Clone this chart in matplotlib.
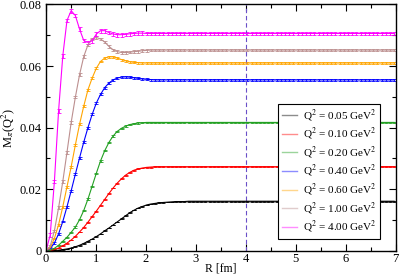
import numpy as np
import matplotlib
matplotlib.use('Agg')
import matplotlib.pyplot as plt

plt.rcParams['font.family'] = ['Liberation Serif', 'DejaVu Serif']
plt.rcParams['mathtext.fontset'] = 'stix'

# lattice spacing of the R grid [fm]
lattice_a = 0.084

q2_labels = ['0.05', '0.10', '0.20', '0.40', '0.60', '1.00', '4.00']
colors = ['#000000', '#ff0000', '#22a022', '#0000ff', '#ffa500', '#bc8f8f', '#ff00ff']

m_005 = [0, 0.00002, 0.0001, 0.0002, 0.0004, 0.0006, 0.0009, 0.0013, 0.0018, 0.0024,
         0.0031, 0.0038, 0.0046, 0.0055, 0.0065, 0.0074, 0.0084, 0.0094, 0.0104, 0.0114,
         0.0124, 0.0132, 0.0139, 0.0144, 0.0149, 0.0152, 0.0154, 0.0156, 0.0157, 0.0158,
         0.0159, 0.0160, 0.0160, 0.0160, 0.0161, 0.0161, 0.0161, 0.0161, 0.0161, 0.0161,
         0.0161, 0.0161, 0.0161, 0.0161, 0.0161, 0.0161, 0.0161, 0.0161, 0.0161, 0.0161,
         0.0161, 0.0161, 0.0161, 0.0161, 0.0161, 0.0161, 0.0161, 0.0161, 0.0161, 0.0161,
         0.0161, 0.0161, 0.0161, 0.0161, 0.0161, 0.0161, 0.0161, 0.0161, 0.0161, 0.0161,
         0.0161, 0.0161, 0.0161, 0.0161, 0.0161, 0.0161, 0.0161, 0.0161, 0.0161, 0.0161,
         0.0161, 0.0161, 0.0161, 0.0161]
m_010 = [0, 0.0001, 0.0004, 0.0009, 0.0016, 0.0025, 0.0035, 0.0047, 0.0061, 0.0076,
         0.0093, 0.0111, 0.0129, 0.0148, 0.0167, 0.0186, 0.0204, 0.0220, 0.0234, 0.0246,
         0.0255, 0.0262, 0.0266, 0.0269, 0.0271, 0.0272, 0.0273, 0.0273, 0.0273, 0.0273,
         0.0273, 0.0273, 0.0273, 0.0273, 0.0273, 0.0273, 0.0273, 0.0273, 0.0273, 0.0273,
         0.0273, 0.0273, 0.0273, 0.0273, 0.0273, 0.0273, 0.0273, 0.0273, 0.0273, 0.0273,
         0.0273, 0.0273, 0.0273, 0.0273, 0.0273, 0.0273, 0.0273, 0.0273, 0.0273, 0.0273,
         0.0273, 0.0273, 0.0273, 0.0273, 0.0273, 0.0273, 0.0273, 0.0273, 0.0273, 0.0273,
         0.0273, 0.0273, 0.0273, 0.0273, 0.0273, 0.0273, 0.0273, 0.0273, 0.0273, 0.0273,
         0.0273, 0.0273, 0.0273, 0.0273]
m_020 = [0, 0.0002, 0.0008, 0.0018, 0.0031, 0.0044, 0.0060, 0.0077, 0.0101, 0.0131,
         0.0168, 0.0210, 0.0252, 0.0292, 0.0325, 0.0352, 0.0373, 0.0388, 0.0398, 0.0405,
         0.0410, 0.0413, 0.0415, 0.0416, 0.0417, 0.0417, 0.0417, 0.0417, 0.0417, 0.0417,
         0.0417, 0.0417, 0.0417, 0.0417, 0.0417, 0.0417, 0.0417, 0.0417, 0.0417, 0.0417,
         0.0417, 0.0417, 0.0417, 0.0417, 0.0417, 0.0417, 0.0417, 0.0417, 0.0417, 0.0417,
         0.0417, 0.0417, 0.0417, 0.0417, 0.0417, 0.0417, 0.0417, 0.0417, 0.0417, 0.0417,
         0.0417, 0.0417, 0.0417, 0.0417, 0.0417, 0.0417, 0.0417, 0.0417, 0.0417, 0.0417,
         0.0417, 0.0417, 0.0417, 0.0417, 0.0417, 0.0417, 0.0417, 0.0417, 0.0417, 0.0417,
         0.0417, 0.0417, 0.0417, 0.0417]
m_040 = [0, 0.0007, 0.0025, 0.0055, 0.0095, 0.0143, 0.0195, 0.0249, 0.0302, 0.0353,
         0.0400, 0.0443, 0.0480, 0.0508, 0.0530, 0.0545, 0.0555, 0.0561, 0.0564, 0.0565,
         0.0564, 0.0562, 0.0560, 0.0558, 0.0557, 0.0556, 0.0555, 0.0555, 0.0555, 0.0555,
         0.0555, 0.0555, 0.0555, 0.0555, 0.0555, 0.0555, 0.0555, 0.0555, 0.0555, 0.0555,
         0.0555, 0.0555, 0.0555, 0.0555, 0.0555, 0.0555, 0.0555, 0.0555, 0.0555, 0.0555,
         0.0555, 0.0555, 0.0555, 0.0555, 0.0555, 0.0555, 0.0555, 0.0555, 0.0555, 0.0555,
         0.0555, 0.0555, 0.0555, 0.0555, 0.0555, 0.0555, 0.0555, 0.0555, 0.0555, 0.0555,
         0.0555, 0.0555, 0.0555, 0.0555, 0.0555, 0.0555, 0.0555, 0.0555, 0.0555, 0.0555,
         0.0555, 0.0555, 0.0555, 0.0555]
m_060 = [0, 0.0010, 0.0040, 0.0085, 0.0143, 0.0208, 0.0273, 0.0344, 0.0411, 0.0470,
         0.0523, 0.0561, 0.0593, 0.0615, 0.0626, 0.0630, 0.0630, 0.0626, 0.0621, 0.0617,
         0.0614, 0.0612, 0.0611, 0.0610, 0.0610, 0.0610, 0.0610, 0.0610, 0.0610, 0.0610,
         0.0610, 0.0610, 0.0610, 0.0610, 0.0610, 0.0610, 0.0610, 0.0610, 0.0610, 0.0610,
         0.0610, 0.0610, 0.0610, 0.0610, 0.0610, 0.0610, 0.0610, 0.0610, 0.0610, 0.0610,
         0.0610, 0.0610, 0.0610, 0.0610, 0.0610, 0.0610, 0.0610, 0.0610, 0.0610, 0.0610,
         0.0610, 0.0610, 0.0610, 0.0610, 0.0610, 0.0610, 0.0610, 0.0610, 0.0610, 0.0610,
         0.0610, 0.0610, 0.0610, 0.0610, 0.0610, 0.0610, 0.0610, 0.0610, 0.0610, 0.0610,
         0.0610, 0.0610, 0.0610, 0.0610]
m_100 = [0, 0.0015, 0.0065, 0.0140, 0.0225, 0.0320, 0.0417, 0.0499, 0.0572, 0.0631,
         0.0669, 0.0688, 0.0693, 0.0688, 0.0678, 0.0664, 0.0653, 0.0647, 0.0644, 0.0644,
         0.0645, 0.0647, 0.0648, 0.0650, 0.0651, 0.0652, 0.0652, 0.0652, 0.0652, 0.0652,
         0.0652, 0.0652, 0.0652, 0.0652, 0.0652, 0.0652, 0.0652, 0.0652, 0.0652, 0.0652,
         0.0652, 0.0652, 0.0652, 0.0652, 0.0652, 0.0652, 0.0652, 0.0652, 0.0652, 0.0652,
         0.0652, 0.0652, 0.0652, 0.0652, 0.0652, 0.0652, 0.0652, 0.0652, 0.0652, 0.0652,
         0.0652, 0.0652, 0.0652, 0.0652, 0.0652, 0.0652, 0.0652, 0.0652, 0.0652, 0.0652,
         0.0652, 0.0652, 0.0652, 0.0652, 0.0652, 0.0652, 0.0652, 0.0652, 0.0652, 0.0652,
         0.0652, 0.0652, 0.0652, 0.0652]
m_400 = [0, 0.0051, 0.0225, 0.0455, 0.0633, 0.0748, 0.0780, 0.0764, 0.0720, 0.0683,
         0.0677, 0.0682, 0.0704, 0.0715, 0.0715, 0.0709, 0.0704, 0.0702, 0.0702, 0.0703,
         0.0705, 0.0706, 0.0707, 0.0707, 0.0706, 0.0706, 0.0706, 0.0706, 0.0706, 0.0706,
         0.0706, 0.0706, 0.0706, 0.0706, 0.0706, 0.0706, 0.0706, 0.0706, 0.0706, 0.0706,
         0.0706, 0.0706, 0.0706, 0.0706, 0.0706, 0.0706, 0.0706, 0.0706, 0.0706, 0.0706,
         0.0706, 0.0706, 0.0706, 0.0706, 0.0706, 0.0706, 0.0706, 0.0706, 0.0706, 0.0706,
         0.0706, 0.0706, 0.0706, 0.0706, 0.0706, 0.0706, 0.0706, 0.0706, 0.0706, 0.0706,
         0.0706, 0.0706, 0.0706, 0.0706, 0.0706, 0.0706, 0.0706, 0.0706, 0.0706, 0.0706,
         0.0706, 0.0706, 0.0706, 0.0706]
series = [m_005, m_010, m_020, m_040, m_060, m_100, m_400]
# statistical error (one value per Q^2)
errors = [0.0001, 0.00015, 0.0002, 0.0003, 0.0003, 0.0004, 0.0006]

R_cut = 4.0

fig = plt.figure(figsize=(3.99, 2.76), dpi=100)
ax = fig.add_axes([0.1153, 0.0913, 0.876, 0.8924])

for vals, err, col, lab in zip(series, errors, colors, q2_labels):
    R = lattice_a * np.arange(len(vals))
    ax.errorbar(R, vals, yerr=err, color=col, lw=0.8, elinewidth=0.6,
                capsize=1.3, capthick=0.6)
    # legend proxy, pale like the original
    ax.plot([], [], color=col, lw=1.0, alpha=0.45,
            label='Q$^2$ = %s GeV$^2$' % lab)

ax.axvline(R_cut, color='#6a4fc8', lw=0.8, ls=(0, (4, 2.5)))

ax.set_xlim(0, 7)
ax.set_ylim(0, 0.08)
ax.set_xticks(np.arange(0, 8, 1))
ax.set_xticks(np.arange(0, 7.01, 0.5), minor=True)
ax.set_yticks([0, 0.02, 0.04, 0.06, 0.08])
ax.set_yticklabels(['0', '0.02', '0.04', '0.06', '0.08'])
ax.set_yticks(np.arange(0, 0.081, 0.01), minor=True)
ax.tick_params(which='both', direction='in', top=True, right=True, labelsize=9)
ax.tick_params(which='major', length=5, width=0.8)
ax.tick_params(which='minor', length=3, width=0.8)
ax.tick_params(axis='x', pad=1.5)
ax.tick_params(axis='y', pad=3)
for s in ax.spines.values():
    s.set_linewidth(1.0)

ax.set_xlabel('R [fm]', fontsize=8.5, labelpad=-1.5)
ax.set_ylabel('M$_{\\pi}$(Q$^2$)', fontsize=9, labelpad=2)

leg = ax.legend(loc='lower right', bbox_to_anchor=(0.957, 0.048), fontsize=8,
                frameon=True, fancybox=False, framealpha=1, edgecolor='black',
                handlelength=1.4, handletextpad=0.5, labelspacing=0.22,
                borderpad=0.35, borderaxespad=0)
leg.get_frame().set_linewidth(0.8)

fig.savefig('out.png', dpi=100)
